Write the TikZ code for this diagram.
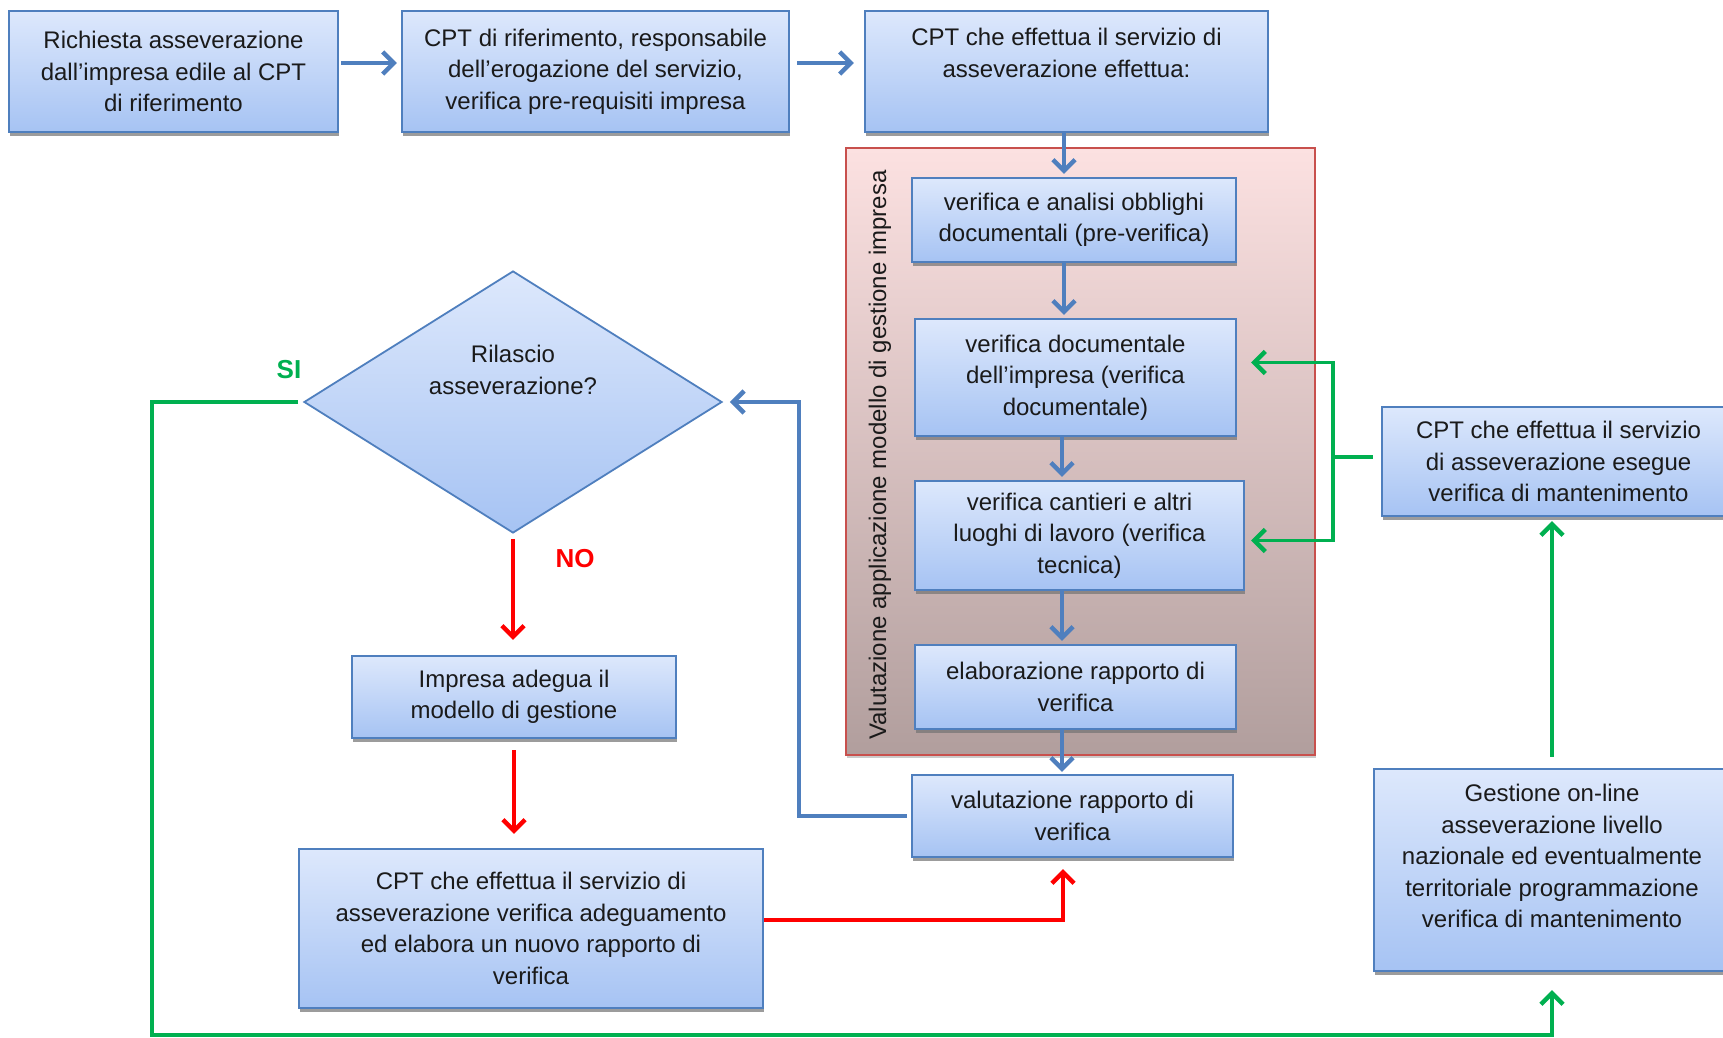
\documentclass[tikz,border=0pt]{standalone}
\usepackage{fontspec}
\setmainfont{Liberation Sans}
\usetikzlibrary{arrows.meta,shapes.geometric,shadows}
\definecolor{bfillA}{HTML}{DDE8FC}
\definecolor{bfillB}{HTML}{A6C3F3}
\definecolor{bline}{HTML}{4F7FBE}
\definecolor{gline}{HTML}{00B050}
\definecolor{rline}{HTML}{FF0000}
\definecolor{pfillA}{HTML}{FCE1E1}
\definecolor{pfillB}{HTML}{B19E9D}
\definecolor{pline}{HTML}{C8504D}
\definecolor{txt}{HTML}{1A1A1A}
\begin{document}
\begin{tikzpicture}[x=1pt,y=-1pt,
  txtstyle/.style={font=\fontsize{24}{31.5}\selectfont, text=txt, align=center},
  box/.style={draw=bline, line width=2.2pt, top color=bfillA, bottom color=bfillB,
    inner sep=0pt, txtstyle,
    drop shadow={shadow xshift=1pt, shadow yshift=-4pt, fill=black!55, opacity=0.7}},
  grp/.style={draw=pline, line width=2pt, top color=pfillA, bottom color=pfillB, inner sep=0pt,
    drop shadow={shadow xshift=1pt, shadow yshift=-3pt, fill=black!40, opacity=0.5}},
  dec/.style={diamond, draw=bline, line width=1.8pt, top color=bfillA, bottom color=bfillB,
    inner sep=0pt},
  tip/.style={-{Straight Barb[length=11pt,width=22pt,line width=4.5pt]}},
  barr/.style={draw=bline, line width=4pt, tip},
  garr/.style={draw=gline, line width=3.5pt, tip},
  gln/.style={draw=gline, line width=3.5pt},
  rarr/.style={draw=rline, line width=4.5pt, tip},
]
\useasboundingbox (0,0) rectangle (1723,1038);
\fill[white] (0,0) rectangle (1723,1038);

% group background
\node[grp, minimum width=469pt, minimum height=607pt] (grp) at (1080.5,451.5) {};
\node[txtstyle, rotate=90] (vt) at (880,455) {Valutazione applicazione modello di gestione impresa};

% top row
\node[box, minimum width=329pt, minimum height=121pt] (b1) at (173.5,71.5)
  {Richiesta asseverazione\\dall'impresa edile al CPT\\di riferimento};
\node[box, minimum width=387pt, minimum height=121pt] (b2) at (595.5,71.5)
  {CPT di riferimento, responsabile\\dell'erogazione del servizio,\\verifica pre-requisiti impresa};
\node[box, minimum width=403pt, minimum height=121pt] (b3) at (1066.5,71.5) {};
\node[txtstyle] (b3t) at (1066.5,53) {CPT che effettua il servizio di\\asseverazione effettua:};

% inner column
\node[box, minimum width=324pt, minimum height=84pt] (A) at (1074,220)
  {verifica e analisi obblighi\\documentali (pre-verifica)};
\node[box, minimum width=321pt, minimum height=117pt] (B) at (1075.5,377.5)
  {verifica documentale\\dell'impresa (verifica\\documentale)};
\node[box, minimum width=329pt, minimum height=109pt] (C) at (1079.5,535.5)
  {verifica cantieri e altri\\luoghi di lavoro (verifica\\tecnica)};
\node[box, minimum width=321pt, minimum height=84pt] (D) at (1075.5,687)
  {elaborazione rapporto di\\verifica};
\node[box, minimum width=321pt, minimum height=82pt] (E) at (1072.5,816)
  {valutazione rapporto di\\verifica};

% left part
\node[dec, minimum width=418pt, minimum height=262pt] (dia) at (513,402) {};
\node[txtstyle] (diat) at (513,370) {Rilascio\\asseverazione?};
\node[box, minimum width=324pt, minimum height=82pt] (imp) at (514,697)
  {Impresa adegua il\\modello di gestione};
\node[box, minimum width=464pt, minimum height=159pt] (cad) at (531,928.5)
  {CPT che effettua il servizio di\\asseverazione verifica adeguamento\\ed elabora un nuovo rapporto di\\verifica};

% right part
\node[box, minimum width=353pt, minimum height=109pt] (r1) at (1558.5,461.5)
  {CPT che effettua il servizio\\di asseverazione esegue\\verifica di mantenimento};
\node[box, minimum width=356pt, minimum height=202pt] (r2) at (1552,870) {};
\node[txtstyle] (r2t) at (1552,856)
  {Gestione on-line\\asseverazione livello\\nazionale ed eventualmente\\territoriale programmazione\\verifica di mantenimento};

% labels
\node[font=\bfseries\fontsize{26}{30}\selectfont, text=gline] (si) at (289,370) {SI};
\node[font=\bfseries\fontsize{26}{30}\selectfont, text=rline] (no) at (575,559) {NO};

% helper coordinates
\coordinate (xa) at (1064,0);
\coordinate (xb) at (1062,0);
\coordinate (gj) at (1333,457);
\coordinate (gbl) at (152,1035);
\coordinate (bj) at (799,600);

% blue top arrows
\draw[barr, shorten <=2pt, shorten >=4pt] ([yshift=8.5pt]b1.east) -- ([yshift=8.5pt]b2.west);
\draw[barr, shorten <=7pt, shorten >=10pt] ([yshift=8.5pt]b2.east) -- ([yshift=8.5pt]b3.west);
% blue vertical arrows
\draw[barr, shorten >=3pt] (b3.south -| xa) -- (A.north -| xa);
\draw[barr, shorten >=3pt] (A.south -| xa) -- (B.north -| xa);
\draw[barr, shorten >=3pt] (B.south -| xb) -- (C.north -| xb);
\draw[barr, shorten >=3pt] (C.south -| xb) -- (D.north -| xb);
\draw[barr, shorten >=2pt] (D.south -| xb) -- (E.north -| xb);
% blue feedback
\draw[barr] ([xshift=-4pt]E.west) -| (bj) |- ([xshift=7pt]dia.east);

% green
\draw[gln] ([xshift=-8pt,yshift=4.5pt]r1.west) -- (gj);
\draw[garr] (gj) |- ([xshift=14pt,yshift=15pt]B.east);
\draw[garr] (gj) |- ([xshift=6pt,yshift=-5pt]C.east);
\draw[garr] ([yshift=11pt]r2.north) -- ([yshift=-4pt]r1.south -| r2.north);
\draw[garr] ([xshift=-5pt]dia.west) -| (gbl) -| ([yshift=-18pt]r2.south);

% red
\draw[rarr] ([yshift=-5pt]dia.south) -- ([yshift=15pt]imp.north -| dia.south);
\draw[rarr] ([yshift=-11pt]imp.south) -- ([yshift=14pt]cad.north -| imp.south);
\draw[rarr] ([yshift=8.5pt]cad.east) -| ([xshift=-9.5pt,yshift=-11pt]E.south);
\end{tikzpicture}
\end{document}
